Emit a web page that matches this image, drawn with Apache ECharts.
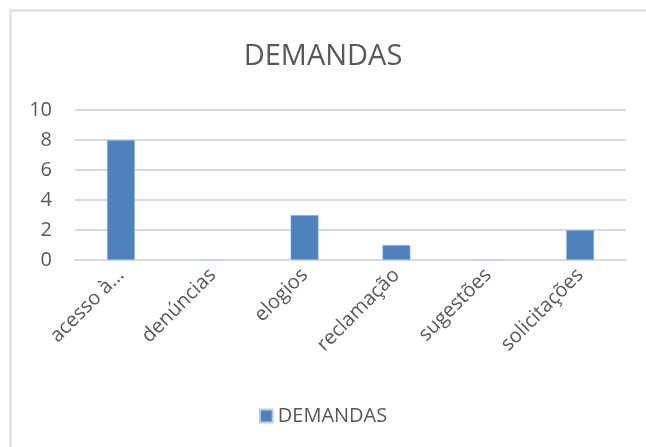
<!doctype html>
<html>
<head>
  <meta charset="utf-8">
  <script src="https://cdn.jsdelivr.net/npm/echarts@6/dist/echarts.min.js"></script>
  <style>
    html, body { margin: 0; padding: 0; background: #fff; }
    #chart { width: 646px; height: 447px; }
  </style>
</head>
<body>
  <div id="chart"></div>
  <script type="text/javascript">
    var categories = ['acesso à...', 'denúncias', 'elogios', 'reclamação', 'sugestões', 'solicitações'];
    var demandas = [8, 0, 3, 1, 0, 2];
    var seriesName = 'DEMANDAS';
    var titleText = 'DEMANDAS';

    var font = '"Open Sans", "Noto Sans", sans-serif';
    var textColor = '#595959';
    var barColor = '#4f81bd';

    var myChart = echarts.init(document.getElementById('chart'));
    var option = {
      animation: false,
      textStyle: { fontFamily: font },
      title: {
        text: titleText,
        left: 'center',
        top: 37,
        textStyle: { fontFamily: font, fontSize: 29, fontWeight: 'normal', color: textColor }
      },
      graphic: [{
        type: 'rect',
        shape: { x: 10.5, y: 10.5, width: 700, height: 500 },
        style: { fill: 'none', stroke: '#d9d9d9', lineWidth: 2 },
        silent: true
      }],
      legend: {
        bottom: 16,
        left: 'center',
        itemWidth: 13,
        itemHeight: 13,
        itemGap: 6,
        icon: 'rect',
        textStyle: { fontFamily: font, fontSize: 20, color: textColor },
        data: [seriesName]
      },
      grid: { left: 75, right: 20, top: 110, bottom: 187, containLabel: false },
      xAxis: {
        type: 'category',
        data: categories,
        axisLine: { show: true, lineStyle: { color: '#d9d9d9', width: 2 } },
        axisTick: { show: false },
        axisLabel: {
          rotate: 45,
          interval: 0,
          margin: 12,
          fontFamily: font,
          fontSize: 20,
          color: textColor
        }
      },
      yAxis: {
        type: 'value',
        min: 0,
        max: 10,
        interval: 2,
        axisLine: { show: false },
        axisTick: { show: false },
        splitLine: { lineStyle: { color: '#d9d9d9', width: 2 } },
        axisLabel: { fontFamily: font, fontSize: 20, color: textColor, margin: 23 }
      },
      series: [{
        name: seriesName,
        type: 'bar',
        data: demandas,
        barWidth: 28,
        itemStyle: { color: barColor, borderColor: '#bcd0ea', borderWidth: 0.5 }
      }]
    };
    myChart.setOption(option);
  </script>
</body>
</html>
